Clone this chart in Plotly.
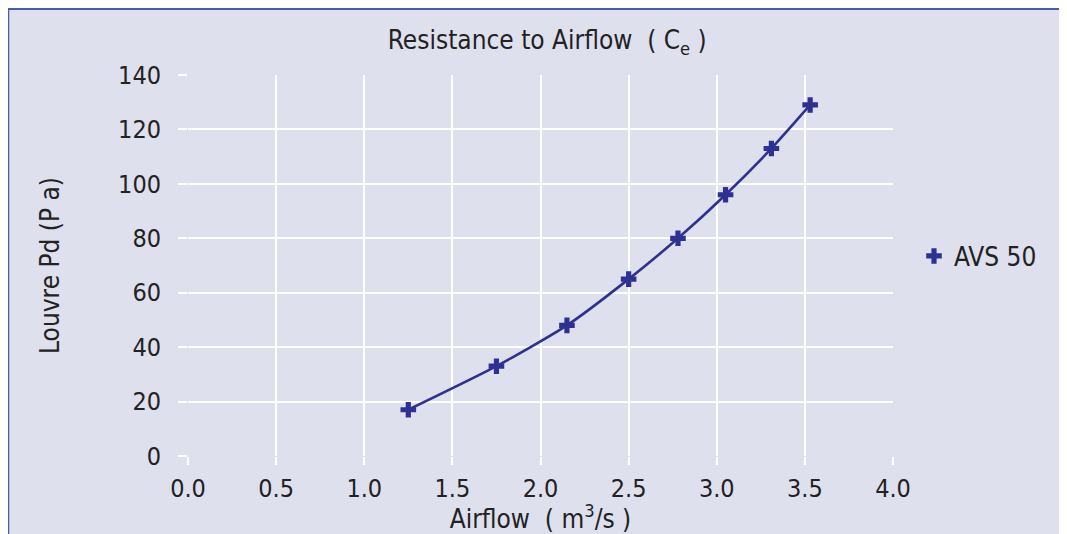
import plotly.graph_objects as go

airflow = [1.25, 1.75, 2.15, 2.5, 2.78, 3.05, 3.31, 3.53]
pressure = [17, 33, 48, 65, 80, 96, 113, 129]
series_name = "AVS 50"

x_ticks = [0.0, 0.5, 1.0, 1.5, 2.0, 2.5, 3.0, 3.5, 4.0]
x_tick_labels = ["0.0", "0.5", "1.0", "1.5", "2.0", "2.5", "3.0", "3.5", "4.0"]
y_ticks = [0, 20, 40, 60, 80, 100, 120, 140]

BG = "#dfe0ee"
BLUE = "#2e3192"
TXT = "#222222"
FONT = "DejaVu Sans Condensed"
NB = "\u00a0"

# page has an 8px body margin: figure is placed at page (8, 8)
W, H = 1059, 526
L, R, T, B = 180, 174, 67, 76
pw, ph = W - L - R, H - T - B


def px(xp):
    return (xp - L) / pw


def py(yp):
    return (H - B - yp) / ph


fig = go.Figure()
fig.add_trace(go.Scatter(
    x=airflow, y=pressure, name=series_name, mode="lines+markers",
    line=dict(color=BLUE, width=2.6, shape="spline", smoothing=0.6),
    marker=dict(symbol="cross", size=13, color=BLUE),
    showlegend=False,
))
fig.add_trace(go.Scatter(
    x=[None], y=[None], name=series_name, mode="markers",
    marker=dict(symbol="cross", size=13, color=BLUE),
    showlegend=True,
))

shapes = [
    dict(type="rect", xref="paper", yref="paper", x0=px(1058), x1=px(1070), y0=py(600), y1=py(-5),
         fillcolor="white", line=dict(width=0), layer="below"),
    dict(type="line", xref="paper", yref="paper", x0=px(0), x1=px(0), y0=py(600), y1=py(0),
         line=dict(color="#4a5ca8", width=2.5), layer="below"),
    dict(type="line", xref="paper", yref="paper", x0=px(0), x1=px(1058), y0=py(0.5), y1=py(0.5),
         line=dict(color="#4a5ca8", width=2.5), layer="below"),
]

fig.update_layout(
    width=W, height=H,
    margin=dict(l=L, r=R, t=T, b=B),
    paper_bgcolor=BG, plot_bgcolor=BG,
    font=dict(family=FONT, size=25, color=TXT),
    title=dict(text="Resistance to Airflow" + NB + NB + "(" + NB + "C<sub>e</sub>" + NB + ")",
               x=px(539), xanchor="center", y=1 - 32 / H, yanchor="middle",
               font=dict(family=FONT, size=26, color=TXT)),
    showlegend=True,
    legend=dict(x=px(906), y=py(249), xanchor="left", yanchor="middle",
                bgcolor="rgba(0,0,0,0)", font=dict(family=FONT, size=26, color=TXT)),
    shapes=shapes,
)
fig.update_xaxes(
    range=[0, 4], tickvals=x_ticks, ticktext=x_tick_labels,
    showgrid=True, gridcolor="white", gridwidth=1.5,
    ticks="outside", ticklen=8, tickcolor="white", tickwidth=1.5,
    ticklabelstandoff=2,
    showline=False, zeroline=False,
    tickfont=dict(family=FONT, size=25, color=TXT),
    title=dict(text="Airflow" + NB + NB + "(" + NB + "m<sup>3</sup>/s" + NB + ")",
               font=dict(family=FONT, size=26, color=TXT), standoff=1),
)
fig.update_yaxes(
    range=[0, 140], tickvals=y_ticks,
    showgrid=True, gridcolor="white", gridwidth=1.5,
    ticks="outside", ticklen=9, tickcolor="white", tickwidth=1.5,
    ticklabelstandoff=12,
    showline=False, zeroline=False,
    tickfont=dict(family=FONT, size=25, color=TXT),
    title=dict(text="Louvre Pd (P a)",
               font=dict(family=FONT, size=26, color=TXT), standoff=50),
)

fig.write_html("out.html")
